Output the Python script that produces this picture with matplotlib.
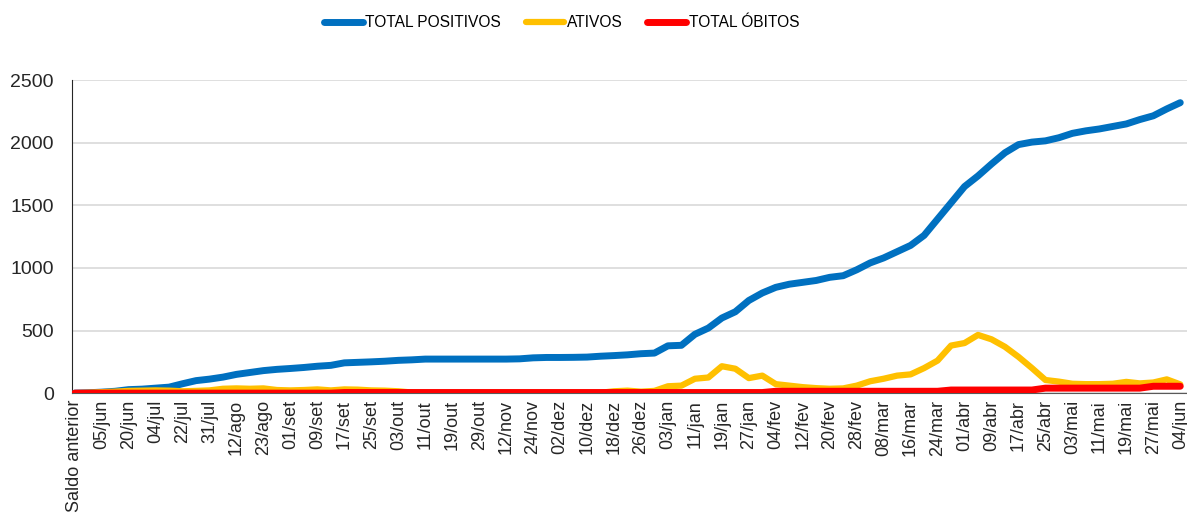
import numpy as np
import matplotlib
matplotlib.use("Agg")
import matplotlib.pyplot as plt

plt.rcParams['font.family'] = ['Liberation Sans', 'DejaVu Sans']

# rótulos do eixo x (um a cada 8 dias)
datas = ['Saldo anterior', '05/jun', '20/jun', '04/jul', '22/jul', '31/jul', '12/ago',
         '23/ago', '01/set', '09/set', '17/set', '25/set', '03/out', '11/out', '19/out',
         '29/out', '12/nov', '24/nov', '02/dez', '10/dez', '18/dez', '26/dez', '03/jan',
         '11/jan', '19/jan', '27/jan', '04/fev', '12/fev', '20/fev', '28/fev', '08/mar',
         '16/mar', '24/mar', '01/abr', '09/abr', '17/abr', '25/abr', '03/mai', '11/mai',
         '19/mai', '27/mai', '04/jun']

# valores lidos a cada meio intervalo entre rótulos
total_positivos = [0, 3, 8, 15, 28, 32, 40, 48, 75, 100, 112, 128, 150, 165, 180, 190,
                   197, 205, 215, 222, 242, 246, 250, 255, 262, 266, 272, 272, 272, 272,
                   272, 272, 272, 274, 282, 285, 285, 286, 288, 295, 300, 306, 315, 320,
                   378, 382, 470, 520, 600, 650, 740, 800, 845, 870, 885, 900, 925, 938,
                   985, 1040, 1080, 1130, 1180, 1260, 1390, 1520, 1650, 1735, 1830, 1920,
                   1985, 2005, 2015, 2040, 2075, 2095, 2110, 2130, 2150, 2185, 2215, 2270,
                   2320]

ativos = [0, 3, 8, 12, 18, 20, 22, 20, 15, 18, 22, 35, 38, 35, 38, 25,
          22, 25, 30, 22, 30, 28, 22, 20, 15, 5, 3, 3, 3, 3,
          3, 3, 3, 3, 3, 3, 3, 3, 3, 3, 15, 20, 12, 18,
          55, 60, 115, 125, 215, 195, 120, 140, 72, 60, 48, 40, 35, 38,
          60, 95, 115, 140, 150, 200, 260, 380, 400, 465, 430, 370,
          290, 200, 105, 92, 75, 72, 72, 75, 90, 78, 85, 110,
          70]

total_obitos = [0, 0, 0, 0, 0, 0, 0, 0, 0, 0, 0, 0, 0, 0, 0, 0,
                0, 0, 0, 0, 5, 5, 5, 5, 5, 5, 5, 5, 5, 5,
                5, 5, 5, 5, 5, 5, 5, 5, 5, 5, 5, 5, 5, 5,
                5, 5, 5, 5, 5, 5, 5, 5, 15, 15, 15, 15, 15, 15,
                15, 15, 15, 15, 15, 15, 15, 25, 25, 25, 25, 25,
                25, 25, 40, 40, 40, 40, 40, 40, 40, 40, 55, 55,
                55]

x = np.arange(len(total_positivos)) / 2

fig = plt.figure(figsize=(11.87, 5.32), dpi=100)
ax = fig.add_axes([72 / 1187, 0.261, 1 - 72 / 1187, 0.5884])

ax.plot(x, total_positivos, color='#0070C0', linewidth=5, label='TOTAL POSITIVOS',
        solid_capstyle='round', zorder=3)
ax.plot(x, ativos, color='#FFC000', linewidth=4.5, label='ATIVOS',
        solid_capstyle='round', zorder=4)
ax.plot(x, total_obitos, color='#FF0000', linewidth=5, label='TOTAL ÓBITOS',
        solid_capstyle='round', zorder=5)

ax.set_xlim(-0.1, 41.25)
ax.set_ylim(0, 2500)
ax.set_yticks(np.arange(0, 2501, 500))
ax.set_xticks(np.arange(len(datas)))
ax.set_xticklabels(datas, rotation=90)
ax.tick_params(axis='x', length=0, pad=5, labelsize=13, colors='#262626')
ax.tick_params(axis='y', length=0, pad=13, labelsize=14, colors='#262626')

ax.grid(axis='y', color='#D9D9D9', linewidth=1.2)
ax.set_axisbelow(True)
for s in ['top', 'right']:
    ax.spines[s].set_visible(False)
ax.spines['left'].set_color('#262626')
ax.spines['bottom'].set_color('#595959')

fig.legend(loc='center', bbox_to_anchor=(0.473, 0.957), ncol=3, frameon=False,
           fontsize=11.2, handlelength=2.5, handletextpad=0.15, columnspacing=1.6)

plt.savefig('out.png', dpi=100)
